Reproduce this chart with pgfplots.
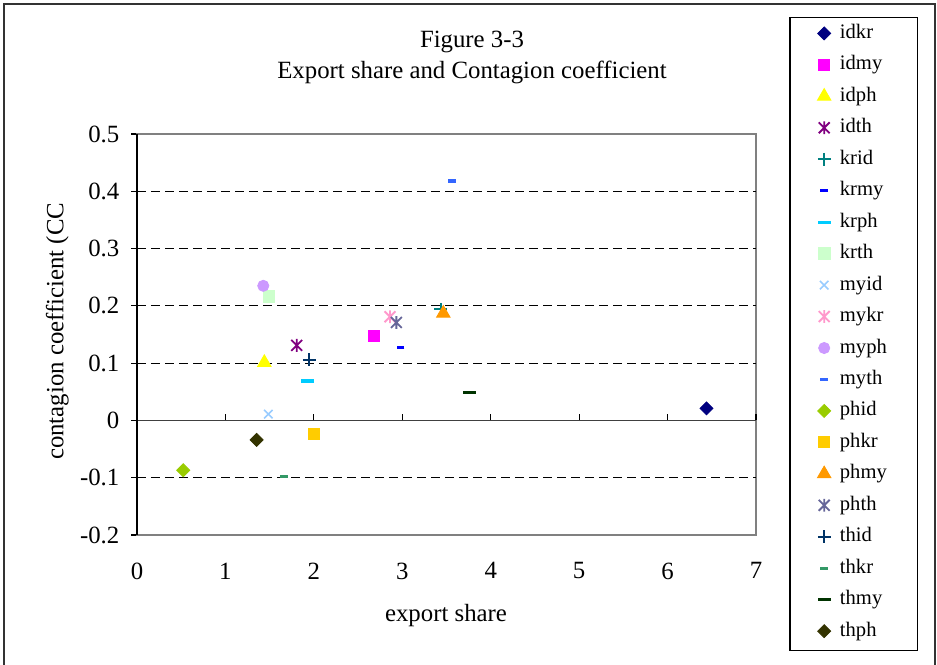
\documentclass[border=0pt]{standalone}
\usepackage{fontspec}
\setmainfont{Liberation Serif}
\usepackage{pgfplots}
\pgfplotsset{compat=1.18}
\usetikzlibrary{plotmarks}

\pgfdeclareplotmark{xstar}{%
  \pgfpathmoveto{\pgfqpoint{-0.85\pgfplotmarksize}{-0.85\pgfplotmarksize}}%
  \pgfpathlineto{\pgfqpoint{0.85\pgfplotmarksize}{0.85\pgfplotmarksize}}%
  \pgfpathmoveto{\pgfqpoint{-0.85\pgfplotmarksize}{0.85\pgfplotmarksize}}%
  \pgfpathlineto{\pgfqpoint{0.85\pgfplotmarksize}{-0.85\pgfplotmarksize}}%
  \pgfpathmoveto{\pgfqpoint{0pt}{-\pgfplotmarksize}}%
  \pgfpathlineto{\pgfqpoint{0pt}{\pgfplotmarksize}}%
  \pgfusepathqstroke}

\definecolor{cidkr}{HTML}{000080}
\definecolor{cidmy}{HTML}{FF00FF}
\definecolor{cidph}{HTML}{FFFF00}
\definecolor{cidth}{HTML}{800080}
\definecolor{ckrid}{HTML}{008080}
\definecolor{ckrmy}{HTML}{0000FF}
\definecolor{ckrph}{HTML}{00CCFF}
\definecolor{ckrth}{HTML}{CCFFCC}
\definecolor{cmyid}{HTML}{99CCFF}
\definecolor{cmykr}{HTML}{FF99CC}
\definecolor{cmyph}{HTML}{CC99FF}
\definecolor{cmyth}{HTML}{3366FF}
\definecolor{cphid}{HTML}{99CC00}
\definecolor{cphkr}{HTML}{FFCC00}
\definecolor{cphmy}{HTML}{FF9900}
\definecolor{cphth}{HTML}{666699}
\definecolor{cthid}{HTML}{003366}
\definecolor{cthkr}{HTML}{339966}
\definecolor{cthmy}{HTML}{003300}
\definecolor{cthph}{HTML}{333300}

\pgfplotsset{
  pt/.style={only marks, legend image code/.code={\draw[##1] plot coordinates {(4.5pt,0pt)};}},
  dia/.style={pt, mark=square*, mark options={rotate=45}, mark size=2.3pt},
  sq/.style={pt, mark=square*, mark size=2.75pt},
  tri/.style={pt, mark=triangle*, mark size=3.9pt},
  ast/.style={pt, mark=xstar, mark size=3.2pt, line width=0.9pt},
  pls/.style={pt, mark=+, mark size=3.2pt, line width=0.9pt},
  xx/.style={pt, mark=x, mark size=3pt, line width=0.8pt},
  dshort/.style={pt, mark=-, mark size=1.9pt, line width=1.6pt},
  dlong/.style={pt, mark=-, mark size=3.2pt, line width=1.6pt},
  circ/.style={pt, mark=*, mark size=2.8pt},
}

\begin{document}
\begin{tikzpicture}
\path[use as bounding box] (0,0) rectangle (468.5pt,332pt);
\draw[black!80, line width=0.7pt] (2pt,-3pt) rectangle (467.5pt,330pt);

\node[anchor=base, font=\fontsize{12.4}{15}\selectfont] at (236pt,308.2pt) {Figure 3-3};
\node[anchor=base, font=\fontsize{12.4}{15}\selectfont] at (236pt,292.9pt) {Export share and Contagion coefficient};
\node[anchor=base, rotate=90, font=\fontsize{12.4}{15}\selectfont] at (31.7pt,166.3pt) {contagion coefficient (CC};
\node[anchor=base, font=\fontsize{12.4}{15}\selectfont] at (223pt,21.2pt) {export share};

\draw[black, line width=0.6pt] (395pt,6.65pt) rectangle (458.8pt,323.35pt);

\begin{axis}[
  at={(68.5pt,64.5pt)}, anchor=south west,
  scale only axis, width=309.5pt, height=200.5pt,
  xmin=0, xmax=7, ymin=-0.2, ymax=0.5,
  xtick={0,1,2,3,4,5,6,7},
  ytick={-0.2,-0.1,0,0.1,0.2,0.3,0.4,0.5},
  ytick pos=left,
  x tick style={draw=none},
  y tick style={black, line width=0.6pt},
  tick align=outside, major tick length=2.8pt,
  axis line style={black!50, line width=0.7pt},
  extra y ticks={-0.1,0.1,0.2,0.3,0.4},
  extra y tick labels={},
  extra y tick style={grid=major, major grid style={black, dash pattern=on 4.5pt off 2.5pt, line width=0.5pt}, tick style={draw=none}},
  /pgf/number format/assume math mode=true,
  tick label style={font=\fontsize{12.4}{15}\selectfont},
  yticklabel style={/pgf/number format/fixed, /pgf/number format/precision=1, xshift=-2.5pt},
  xticklabel style={yshift=-7.5pt},
  clip=false,
  legend style={draw=none, fill=none, at={(axis description cs:1.0986,1.2743)}, anchor=north west,
    inner sep=0pt, row sep=6.73pt, column sep=4.5pt, font=\fontsize{10.3}{12}\selectfont,
    nodes={inner sep=0pt, text height=7pt, text depth=2pt}},
  legend cell align=left,
]
\draw[black!75, line width=0.8pt] (axis cs:0,0) -- (axis cs:7,0);
\draw[black, line width=0.6pt]
  (axis cs:1,0) -- (axis cs:1,0.012)
  (axis cs:2,0) -- (axis cs:2,0.012)
  (axis cs:3,0) -- (axis cs:3,0.012)
  (axis cs:4,0) -- (axis cs:4,0.012)
  (axis cs:5,0) -- (axis cs:5,0.012)
  (axis cs:6,0) -- (axis cs:6,0.012)
  (axis cs:7,0) -- (axis cs:7,0.012);

\addplot[dia, color=cidkr] coordinates {(6.44,0.021)};
\addlegendentry{idkr}
\addplot[sq, color=cidmy] coordinates {(2.684,0.147)};
\addlegendentry{idmy}
\addplot[tri, color=cidph] coordinates {(1.44,0.101)};
\addlegendentry{idph}
\addplot[ast, color=cidth] coordinates {(1.806,0.131)};
\addlegendentry{idth}
\addplot[pls, color=ckrid] coordinates {(3.434,0.194)};
\addlegendentry{krid}
\addplot[dshort, color=ckrmy] coordinates {(2.982,0.127)};
\addlegendentry{krmy}
\addplot[dlong, color=ckrph] coordinates {(1.93,0.069)};
\addlegendentry{krph}
\addplot[sq, mark size=2.9pt, color=ckrth] coordinates {(1.493,0.216)};
\addlegendentry{krth}
\addplot[xx, color=cmyid] coordinates {(1.485,0.011)};
\addlegendentry{myid}
\addplot[ast, color=cmykr] coordinates {(2.861,0.181)};
\addlegendentry{mykr}
\addplot[circ, color=cmyph] coordinates {(1.428,0.235)};
\addlegendentry{myph}
\addplot[dshort, color=cmyth] coordinates {(3.559,0.418)};
\addlegendentry{myth}
\addplot[dia, color=cphid] coordinates {(0.523,-0.087)};
\addlegendentry{phid}
\addplot[sq, color=cphkr] coordinates {(2.005,-0.023)};
\addlegendentry{phkr}
\addplot[tri, color=cphmy] coordinates {(3.464,0.187)};
\addlegendentry{phmy}
\addplot[ast, color=cphth] coordinates {(2.933,0.171)};
\addlegendentry{phth}
\addplot[pls, color=cthid] coordinates {(1.949,0.106)};
\addlegendentry{thid}
\addplot[dshort, color=cthkr] coordinates {(1.663,-0.098)};
\addlegendentry{thkr}
\addplot[dlong, color=cthmy] coordinates {(3.758,0.049)};
\addlegendentry{thmy}
\addplot[dia, color=cthph] coordinates {(1.353,-0.034)};
\addlegendentry{thph}

\draw[black, line width=0.8pt] (rel axis cs:0,0) -- (rel axis cs:0,1);
\end{axis}
\end{tikzpicture}
\end{document}
